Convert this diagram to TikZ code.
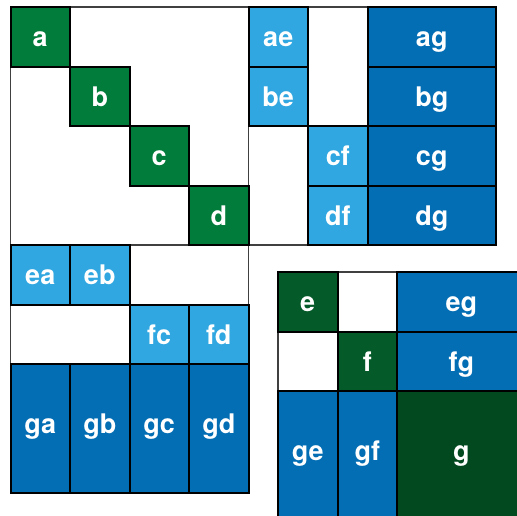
\documentclass[tikz,border=0pt]{standalone}
\usepackage{fontspec}
\setmainfont{TeX Gyre Heros}
\definecolor{diagA}{RGB}{2,124,58}
\definecolor{diagB}{RGB}{4,90,40}
\definecolor{diagC}{RGB}{3,73,32}
\definecolor{offL}{RGB}{48,167,224}
\definecolor{offD}{RGB}{4,110,180}
\tikzset{
  cell/.style={draw=black,line width=2pt,text=white,inner sep=0pt,
    text height=20pt,text depth=0pt,
    font=\fontsize{27}{27}\selectfont\bfseries},
  sq/.style={cell,minimum width=59.5pt,minimum height=59.5pt},
  wide/.style={cell,minimum width=128.5pt,minimum height=59.5pt},
  tall/.style={cell,minimum width=59.5pt,minimum height=128.5pt,text height=10pt},
  big/.style={cell,minimum width=128.5pt,minimum height=128.5pt,text height=10pt},
  blank/.style={draw=black!75,line width=1.8pt,fill=white}
}
\begin{document}
\begin{tikzpicture}[x=1pt,y=-1pt]
  \useasboundingbox (0,0) rectangle (517,515);
  \clip (0,0) rectangle (517,515);
  % empty parts of the large matrix
  \draw[blank] (10.5,7) rectangle (248.5,245);
  \draw[blank] (308,7) rectangle (367.5,126);
  \draw[blank] (248.5,126) rectangle (308,245);
  \draw[blank] (129.5,245) rectangle (248.5,304.5);
  \draw[blank] (10.5,304.5) rectangle (129.5,364);
  % diagonal
  \node[sq,fill=diagA] (a) at (40.25,36.75) {a};
  \node[sq,fill=diagA] (b) at (99.75,96.25) {b};
  \node[sq,fill=diagA] (c) at (159.25,155.75) {c};
  \node[sq,fill=diagA] (d) at (218.75,215.25) {d};
  % light blocks
  \node[sq,fill=offL] (ae) at (278.25,36.75) {ae};
  \node[sq,fill=offL] (be) at (278.25,96.25) {be};
  \node[sq,fill=offL] (cf) at (337.75,155.75) {cf};
  \node[sq,fill=offL] (df) at (337.75,215.25) {df};
  \node[sq,fill=offL] (ea) at (40.25,274.75) {ea};
  \node[sq,fill=offL] (eb) at (99.75,274.75) {eb};
  \node[sq,fill=offL] (fc) at (159.25,334.25) {fc};
  \node[sq,fill=offL] (fd) at (218.75,334.25) {fd};
  % last block row and column
  \node[wide,fill=offD] (ag) at (431.75,36.75) {ag};
  \node[wide,fill=offD] (bg) at (431.75,96.25) {bg};
  \node[wide,fill=offD] (cg) at (431.75,155.75) {cg};
  \node[wide,fill=offD] (dg) at (431.75,215.25) {dg};
  \node[tall,fill=offD] (ga) at (40.25,428.25) {ga};
  \node[tall,fill=offD] (gb) at (99.75,428.25) {gb};
  \node[tall,fill=offD] (gc) at (159.25,428.25) {gc};
  \node[tall,fill=offD] (gd) at (218.75,428.25) {gd};

  % reduced matrix
  \draw[blank] (337.5,272) rectangle (397,331.5);
  \draw[blank] (278,331.5) rectangle (337.5,391);
  \node[sq,fill=diagB] (e) at (307.75,301.75) {e};
  \node[sq,fill=diagB] (f) at (367.25,361.25) {f};
  \node[wide,fill=offD] (eg) at (461.25,301.75) {eg};
  \node[wide,fill=offD] (fg) at (461.25,361.25) {fg};
  \node[tall,fill=offD] (ge) at (307.75,455.25) {ge};
  \node[tall,fill=offD] (gf) at (367.25,455.25) {gf};
  \node[big,fill=diagC] (g) at (461.25,455.25) {g};
\end{tikzpicture}
\end{document}
